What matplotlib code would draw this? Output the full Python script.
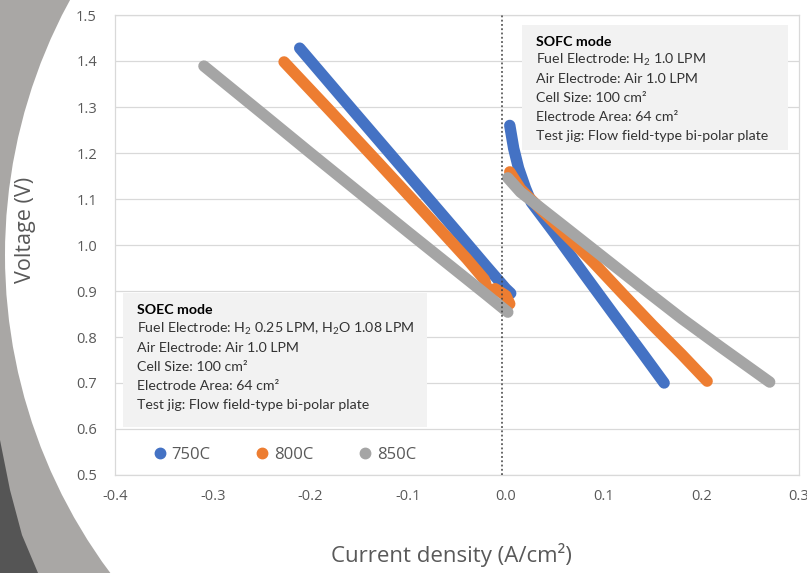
import numpy as np
import matplotlib
matplotlib.use("Agg")
import matplotlib.pyplot as plt
from matplotlib.patches import Ellipse, Polygon, Rectangle

plt.rcParams['font.family'] = ['Open Sans', 'DejaVu Sans']
plt.rcParams['mathtext.fontset'] = 'custom'
plt.rcParams['mathtext.rm'] = 'Lato'
plt.rcParams['mathtext.it'] = 'Lato'

# SOEC branch (negative current density)
soec_750_j = [-0.211, -0.17, -0.13, -0.09, -0.05, -0.02, 0.0, 0.005]
soec_750_v = [1.428, 1.326, 1.227, 1.128, 1.029, 0.954, 0.905, 0.895]
soec_800_j = [-0.227, -0.18, -0.13, -0.08, -0.04, -0.022, -0.017, -0.011, 0.0, 0.004]
soec_800_v = [1.398, 1.292, 1.178, 1.063, 0.97, 0.925, 0.89, 0.905, 0.89, 0.872]
soec_850_j = [-0.309, -0.25, -0.2, -0.15, -0.1, -0.05, -0.02, 0.002]
soec_850_v = [1.389, 1.287, 1.2, 1.114, 1.028, 0.943, 0.892, 0.854]

# SOFC branch (positive current density)
sofc_750_j = [0.004, 0.008, 0.013, 0.02, 0.026, 0.05, 0.08, 0.11, 0.14, 0.162]
sofc_750_v = [1.26, 1.21, 1.167, 1.124, 1.093, 1.025, 0.937, 0.85, 0.764, 0.70]
sofc_800_j = [0.004, 0.015, 0.03, 0.06, 0.09, 0.12, 0.15, 0.18, 0.206]
sofc_800_v = [1.159, 1.122, 1.09, 1.025, 0.961, 0.893, 0.826, 0.762, 0.704]
sofc_850_j = [0.002, 0.015, 0.03, 0.06, 0.1, 0.14, 0.18, 0.22, 0.27]
sofc_850_v = [1.146, 1.115, 1.09, 1.04, 0.973, 0.906, 0.84, 0.778, 0.702]

labels = ['750C', '800C', '850C']
colors = ['#4472C4', '#ED7D31', '#A5A5A5']

soec_text = ['Fuel Electrode: H$_2$ 0.25 LPM, H$_2$O 1.08 LPM',
             'Air Electrode: Air 1.0 LPM',
             'Cell Size: 100 cm\u00b2',
             'Electrode Area: 64 cm\u00b2',
             'Test jig: Flow field-type bi-polar plate']
sofc_text = ['Fuel Electrode: H$_2$ 1.0 LPM',
             'Air Electrode: Air 1.0 LPM',
             'Cell Size: 100 cm\u00b2',
             'Electrode Area: 64 cm\u00b2',
             'Test jig: Flow field-type bi-polar plate']

W, H = 807, 573
fig = plt.figure(figsize=(W / 100, H / 100), dpi=100)
fig.patch.set_facecolor('#a9a7a5')


def fx(px):
    return px / W


def fy(py):
    return 1 - py / H


# slide decoration on the left
fig.patches.append(Ellipse((fx(538), fy(255)), 2 * 533 / W, 2 * 533 / H,
                           transform=fig.transFigure, facecolor='white', edgecolor='none', zorder=-2))
fig.patches.append(Polygon([(fx(0), fy(440)), (fx(10), fy(490)), (fx(22), fy(535)), (fx(38), fy(573)),
                            (fx(0), fy(573))], closed=True, transform=fig.transFigure,
                           facecolor='#555555', edgecolor='none', zorder=-1))

ax = fig.add_axes([fx(115), fy(475), (799 - 115) / W, 460 / H])
ax.set_zorder(5)
ax.set_facecolor('white')

soec = [(soec_750_j, soec_750_v), (soec_800_j, soec_800_v), (soec_850_j, soec_850_v)]
sofc = [(sofc_750_j, sofc_750_v), (sofc_800_j, sofc_800_v), (sofc_850_j, sofc_850_v)]
for (j1, v1), (j2, v2), c, lab in zip(soec, sofc, colors, labels):
    ax.plot(j1, v1, color=c, lw=8.2, solid_capstyle='round', solid_joinstyle='round', zorder=3)
    ax.plot(j2, v2, color=c, lw=8.2, solid_capstyle='round', solid_joinstyle='round', zorder=3)
    ax.plot([], [], 'o', color=c, ms=7.5, label=lab)

ax.axvline(-0.004, color='#404040', lw=1.1, ls=(0, (1.2, 1.6)), zorder=4)

ax.set_xlim(-0.4, 0.3)
ax.set_ylim(0.5, 1.5)
ax.set_xticks(np.arange(-0.4, 0.31, 0.1))
ax.set_xticklabels(['-0.4', '-0.3', '-0.2', '-0.1', '0.0', '0.1', '0.2', '0.3'])
ax.set_yticks(np.arange(0.5, 1.51, 0.1))
ax.set_yticklabels(['%.1f' % v for v in np.arange(0.5, 1.51, 0.1)])
ax.tick_params(length=0, labelsize=10.5, labelcolor='#595959')
ax.tick_params(axis='y', pad=13)
ax.tick_params(axis='x', pad=10)
ax.grid(axis='y', color='#d9d9d9', lw=0.9, zorder=0)
ax.set_axisbelow(True)
for s in ax.spines.values():
    s.set_color('#d9d9d9')
    s.set_linewidth(0.9)

fig.text(fx(25), fy(230), 'Voltage (V)', rotation=90, ha='center', va='center',
         fontsize=15.5, color='#595959')
fig.text(fx(451), fy(555), 'Current density (A/cm\u00b2)', ha='center', va='center',
         fontsize=16, color='#595959')

leg = ax.legend(loc='center', bbox_to_anchor=(0.247, 0.043), ncol=3, frameon=False,
                fontsize=12, handletextpad=0.22, columnspacing=2.6, handlelength=1.0)
for t in leg.get_texts():
    t.set_color('#595959')

# text boxes
ax.add_patch(Rectangle((fx(123), fy(427)), fx(427) - fx(123), fy(293) - fy(427),
                       transform=fig.transFigure, facecolor='#f2f2f2', edgecolor='none', zorder=1))
ax.add_patch(Rectangle((fx(522), fy(150)), fx(788) - fx(522), fy(25) - fy(150),
                       transform=fig.transFigure, facecolor='#f2f2f2', edgecolor='none', zorder=1))

fs = 10.2
ax.text(fx(137), fy(310), 'SOEC mode', fontsize=fs, fontweight='bold', family='Lato',
        va='center', color='black', transform=fig.transFigure, zorder=6)
for i, line in enumerate(soec_text):
    ax.text(fx(137), fy(329 + 19 * i), line, fontsize=fs, family='Lato', va='center',
            color='#333333', transform=fig.transFigure, zorder=6)

ax.text(fx(536), fy(42), 'SOFC mode', fontsize=fs, fontweight='bold', family='Lato',
        va='center', color='black', transform=fig.transFigure, zorder=6)
for i, line in enumerate(sofc_text):
    ax.text(fx(536), fy(60 + 19 * i), line, fontsize=fs, family='Lato', va='center',
            color='#333333', transform=fig.transFigure, zorder=6)

fig.savefig('out.png', dpi=100, facecolor=fig.get_facecolor())
